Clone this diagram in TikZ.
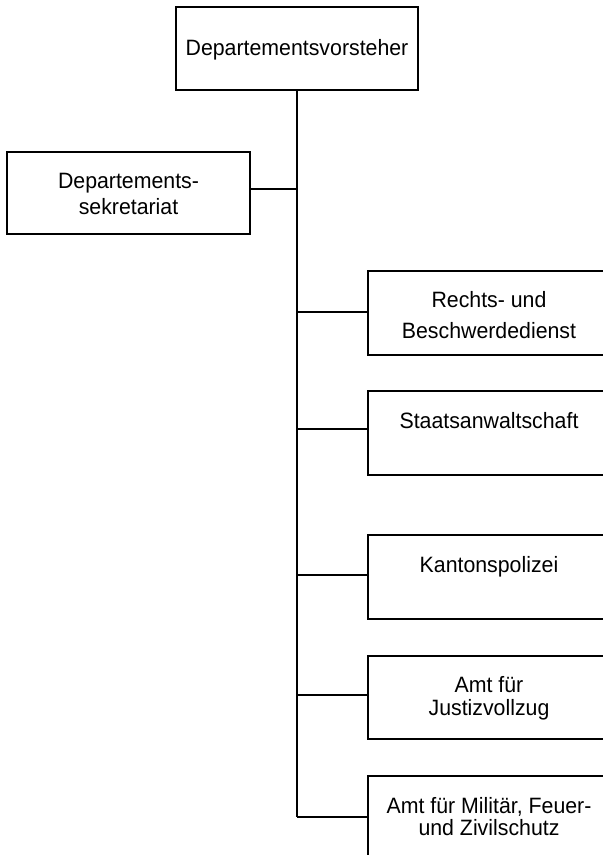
\documentclass[tikz,border=0pt]{standalone}
\usepackage{fontspec}
\newfontfamily\orgfont[FakeStretch=0.96]{Liberation Sans}
\begin{document}
\begin{tikzpicture}[x=1pt,y=-1pt,
  orgbox/.style={draw=black, line width=1.4pt, rectangle, inner sep=0pt, minimum width=242pt, minimum height=83pt},
  orgtxt/.style={inner sep=0pt, anchor=base, align=center, font=\orgfont\fontsize{22.2}{22}\selectfont},
  orgline/.style={draw=black, line width=1.4pt}]
\useasboundingbox (0,0) rectangle (603,855);
\fill[white] (0,0) rectangle (603,855);
% boxes
\node[orgbox] (vorst) at (297,48.5) {};
\node[orgbox, minimum width=243pt, minimum height=82pt] (sek) at (128.5,193) {};
\node[orgbox, minimum height=84pt] (b1) at (489,313) {};
\node[orgbox, minimum height=84pt] (b2) at (489,433) {};
\node[orgbox, minimum height=84pt] (b3) at (489,577) {};
\node[orgbox] (b4) at (489,697.5) {};
\node[orgbox] (b5) at (489,817.5) {};
% texts (anchor base = last line's baseline)
\node[orgtxt] (tvorst) at (297,55.7) {Departementsvorsteher};
\node[orgtxt] (tsek) at (128.5,214) {Departements-\\[4pt]sekretariat};
\node[orgtxt] (tb1) at (489,338.3) {Rechts- und\\[9pt]Beschwerdedienst};
\node[orgtxt] (tb2) at (489,428.5) {Staatsanwaltschaft};
\node[orgtxt] (tb3) at (489,572) {Kantonspolizei};
\node[orgtxt] (tb4) at (489,715) {Amt für\\[1pt]Justizvollzug};
\node[orgtxt] (tb5) at (489,835) {Amt für Militär, Feuer-\\und Zivilschutz};
% connectors
\coordinate (jsek) at (297,189);
\coordinate (j1) at (297,312);
\coordinate (j2) at (297,429);
\coordinate (j3) at (297,575);
\coordinate (j4) at (297,695);
\coordinate (j5) at (297,817);
\draw[orgline] (vorst.south) -- (j5);
\draw[orgline] (jsek) -- (jsek -| sek.east);
\draw[orgline] (j1) -- (j1 -| b1.west);
\draw[orgline] (j2) -- (j2 -| b2.west);
\draw[orgline] (j3) -- (j3 -| b3.west);
\draw[orgline] (j4) -- (j4 -| b4.west);
\draw[orgline] (j5) -- (j5 -| b5.west);
\end{tikzpicture}
\end{document}
